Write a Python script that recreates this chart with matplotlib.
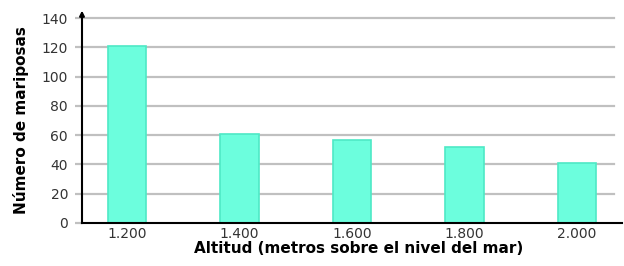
import matplotlib
matplotlib.use("Agg")
import matplotlib.pyplot as plt

# altitud vs numero de mariposas
altitudes = ["1.200", "1.400", "1.600", "1.800", "2.000"]
mariposas = [121, 61, 57, 52, 41]
yticks = [0, 20, 40, 60, 80, 100, 120, 140]

fig = plt.figure(figsize=(6.24, 2.66), dpi=100)
ax = fig.add_axes([0.1314, 0.1617, 0.8656, 0.7703])

xpos = list(range(len(altitudes)))
ax.bar(xpos, mariposas, width=0.34, color="#6cfedd", edgecolor="#4ee9c6", linewidth=1.2, zorder=3)

ax.set_xlim(-0.4, 4.4)
ax.set_ylim(0, 140)
ax.set_yticks(yticks)
ax.set_xticks(xpos)
ax.set_xticklabels(altitudes)

for y in yticks[1:]:
    ax.axhline(y, xmin=0, xmax=0.985, color="#c0c0c0", linewidth=1.6, zorder=1, clip_on=False)

for s in ["top", "right"]:
    ax.spines[s].set_visible(False)
ax.spines["left"].set_linewidth(1.5)
ax.spines["bottom"].set_linewidth(1.5)
ax.spines["left"].set_zorder(4)
ax.spines["bottom"].set_zorder(4)

# arrow on top of the y axis
ax.annotate("", xy=(0, 1.05), xytext=(0, 0.99), xycoords="axes fraction",
            arrowprops=dict(arrowstyle="-|>", color="black", lw=1.5, mutation_scale=7))

ax.tick_params(axis="y", length=5, width=1.6, color="#c0c0c0", pad=5, labelsize=10, labelcolor="#333333")
ax.tick_params(axis="x", length=0, pad=3, labelsize=10, labelcolor="#333333")

ax.set_xlabel("Altitud (metros sobre el nivel del mar)", fontsize=11, fontweight="bold", labelpad=0, x=0.513)
ax.set_ylabel("Número de mariposas", fontsize=11, fontweight="bold", labelpad=9)

fig.savefig("out.png", dpi=100)
